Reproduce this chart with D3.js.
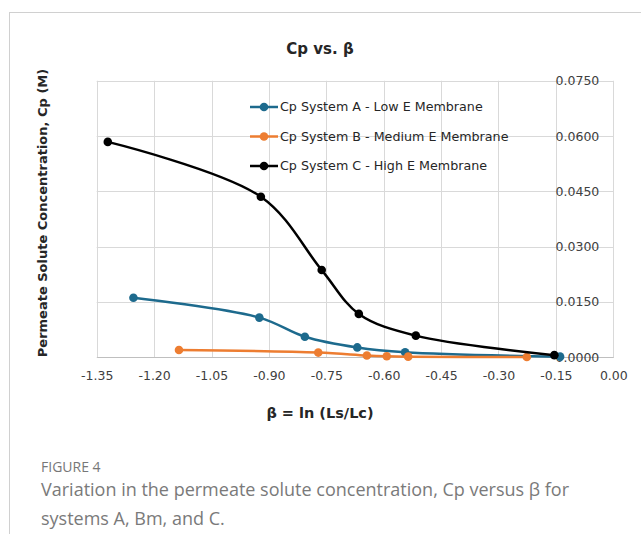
<!DOCTYPE html>
<html>
<head>
<meta charset="utf-8">
<script src="https://cdn.jsdelivr.net/npm/d3@7"></script>
<style>
  html, body { margin: 0; padding: 0; background: #fff; }
  svg { display: block; }
  .tick text { font-family: "DejaVu Sans", sans-serif; font-size: 12.5px; fill: #404040; }
</style>
</head>
<body>
<svg id="chart" width="641" height="534"></svg>
<script>
// Cp vs beta, three membrane systems
const betaA = [-1.254, -0.925, -0.806, -0.669, -0.544, -0.139];
const cpA   = [0.0161, 0.0107, 0.0055, 0.0026, 0.0013, 0.0001];
const betaB = [-1.135, -0.771, -0.644, -0.592, -0.536, -0.226];
const cpB   = [0.0019, 0.0012, 0.0004, 0.0002, 0.0001, 0.0000];
const betaC = [-1.321, -0.921, -0.762, -0.665, -0.516, -0.154];
const cpC   = [0.0584, 0.0435, 0.0236, 0.0117, 0.0058, 0.0005];

const seriesNames = ["Cp System A - Low E Membrane", "Cp System B - Medium E Membrane", "Cp System C - High E Membrane"];
const seriesColors = ["#1d6a8d", "#ed7d31", "#000000"];
const xTicks = [-1.35, -1.20, -1.05, -0.90, -0.75, -0.60, -0.45, -0.30, -0.15, 0.00];
const yTicks = [0, 0.015, 0.030, 0.045, 0.060, 0.075];

const series = [[betaA, cpA], [betaB, cpB], [betaC, cpC]].map(([xs, ys], i) => ({
  name: seriesNames[i], color: seriesColors[i],
  pts: xs.map((x, j) => ({ x, y: ys[j] }))
}));

const svg = d3.select("#chart");
const FONT = '"DejaVu Sans", sans-serif';

// outer frame (top + left rule)
svg.append("line").attr("x1", 9).attr("x2", 641).attr("y1", 12.5).attr("y2", 12.5).attr("stroke", "#d0d0d0");
svg.append("line").attr("x1", 9.5).attr("x2", 9.5).attr("y1", 12).attr("y2", 534).attr("stroke", "#d0d0d0");

const L = 96.7, R = 613.3, T = 80.75, B = 357;
const x = d3.scaleLinear().domain([-1.35, 0]).range([L, R]);
const y = d3.scaleLinear().domain([0, 0.075]).range([B, T]);

// gridlines
const grid = svg.append("g").attr("stroke", "#d9d9d9").attr("stroke-width", 1);
grid.selectAll("line.v").data(xTicks).join("line")
  .attr("x1", (d) => Math.round(x(d)) + 0.5).attr("x2", (d) => Math.round(x(d)) + 0.5)
  .attr("y1", T).attr("y2", B);
grid.selectAll("line.h").data(yTicks).join("line")
  .attr("x1", L).attr("x2", R)
  .attr("y1", (d) => Math.round(y(d)) + 0.5).attr("y2", (d) => Math.round(y(d)) + 0.5);

// x axis along bottom (plain hyphen minus, like the source)
const xAxis = svg.append("g").attr("transform", `translate(0,${B})`)
  .call(d3.axisBottom(x).tickValues(xTicks).tickFormat((d) => d.toFixed(2)).tickSize(0).tickPadding(14));
xAxis.select(".domain").attr("stroke", "#bfbfbf");

// y axis labels sit left of the right edge (axis crosses at beta = 0)
const yAxis = svg.append("g").attr("transform", `translate(${R - 14},0)`)
  .call(d3.axisLeft(y).tickValues(yTicks).tickFormat((d) => d.toFixed(4)).tickSize(0).tickPadding(0));
yAxis.select(".domain").remove();

// lines + markers
const line = d3.line().x((d) => x(d.x)).y((d) => y(d.y)).curve(d3.curveCatmullRom.alpha(0.5));
const sg = svg.append("g").selectAll("g").data(series).join("g");
sg.append("path").attr("d", (d) => line(d.pts)).attr("fill", "none")
  .attr("stroke", (d) => d.color).attr("stroke-width", 2.5);
sg.each(function (s) {
  d3.select(this).selectAll("circle").data(s.pts).join("circle")
    .attr("cx", (d) => x(d.x)).attr("cy", (d) => y(d.y)).attr("r", 4.3).attr("fill", s.color);
});

// legend
const lg = svg.append("g").selectAll("g").data(series).join("g")
  .attr("transform", (d, i) => `translate(250,${107 + i * 29.5})`);
lg.append("line").attr("x1", 0).attr("x2", 28).attr("stroke", (d) => d.color).attr("stroke-width", 2.5);
lg.append("circle").attr("cx", 14).attr("r", 4.3).attr("fill", (d) => d.color);
lg.append("text").attr("x", 30).attr("dy", "0.35em").attr("font-family", FONT).attr("font-size", 12.7)
  .attr("fill", "#262626").text((d) => d.name);

// titles
svg.append("text").attr("x", 320).attr("y", 54).attr("text-anchor", "middle")
  .attr("font-family", FONT).attr("font-weight", "bold").attr("font-size", 15).attr("fill", "#262626")
  .text("Cp vs. β");
svg.append("text").attr("x", 320).attr("y", 418).attr("text-anchor", "middle")
  .attr("font-family", FONT).attr("font-weight", "bold").attr("font-size", 14.5).attr("fill", "#262626")
  .text("β = ln (Ls/Lc)");
svg.append("text").attr("transform", "translate(47,213) rotate(-90)").attr("text-anchor", "middle")
  .attr("font-family", FONT).attr("font-weight", "bold").attr("font-size", 13).attr("fill", "#262626")
  .text("Permeate Solute Concentration, Cp (M)");

// figure caption
svg.append("text").attr("x", 41).attr("y", 472).attr("font-family", '"Open Sans", sans-serif')
  .attr("font-size", 14).attr("fill", "#777").text("FIGURE 4");
svg.append("text").attr("x", 41).attr("y", 496).attr("font-family", '"Open Sans", sans-serif')
  .attr("font-size", 18).attr("fill", "#7a7a7a")
  .text("Variation in the permeate solute concentration, Cp versus β for");
svg.append("text").attr("x", 41).attr("y", 525).attr("font-family", '"Open Sans", sans-serif')
  .attr("font-size", 18).attr("fill", "#7a7a7a").text("systems A, Bm, and C.");
</script>
</body>
</html>
